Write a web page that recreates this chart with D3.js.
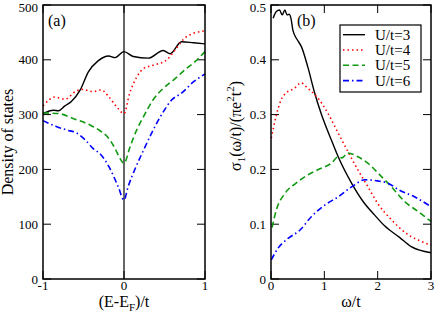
<!DOCTYPE html>
<html><head><meta charset="utf-8">
<script src="https://cdn.jsdelivr.net/npm/d3@7"></script>
<style>
body{margin:0;background:#fff;}
svg{display:block;}
text{font-family:"Liberation Serif","DejaVu Serif",serif;}
</style></head><body>
<svg id="c" width="436" height="315"></svg>
<script>
// ---------- Panel (a) data: Density of states vs (E-E_F)/t ----------
const aE3 = [-1,-0.87,-0.81,-0.73,-0.65,-0.54,-0.44,-0.32,-0.19,-0.11,0,0.115,0.30,0.485,0.57,0.71,0.86,1];
const aD3 = [302,308,307,316,324,345,378,398,407,404,415,406,403,417,411,433,431,429];
const aE4 = [-1,-0.85,-0.73,-0.60,-0.52,-0.38,-0.28,-0.19,-0.09,0,0.07,0.16,0.24,0.36,0.53,0.63,0.77,1];
const aD4 = [316,332,328,342,346,342,345,333,314,302,339,369,384,390,400,418,442,453];
const aE5 = [-1,-0.81,-0.63,-0.42,-0.30,-0.19,-0.11,-0.05,0,0.074,0.157,0.24,0.36,0.485,0.61,0.77,0.88,1];
const aD5 = [303,302,293,281,271,257,238,220,211,241,272,296,327,348,363,384,397,415];
const aE6 = [-1,-0.83,-0.71,-0.58,-0.48,-0.38,-0.28,-0.19,-0.07,0,0.05,0.14,0.26,0.36,0.485,0.59,0.71,0.86,1];
const aD6 = [289,278,272,266,254,238,226,206,168,144,168,202,241,272,305,327,339,360,374];

// ---------- Panel (b) data: sigma_1 vs omega/t ----------
const bW3 = [0.04,0.1,0.16,0.21,0.26,0.3,0.34,0.38,0.41,0.49,0.57,0.69,0.82,0.94,1.13,1.26,1.51,1.73,1.94,2.13,2.41,2.63,3];
const bS3 = [0.476,0.488,0.491,0.482,0.491,0.482,0.483,0.473,0.454,0.437,0.424,0.387,0.339,0.302,0.254,0.223,0.175,0.141,0.117,0.097,0.076,0.059,0.048];
const bW4 = [0.006,0.1,0.19,0.29,0.44,0.56,0.69,0.88,1.07,1.26,1.44,1.63,1.82,2.0,2.26,2.54,2.76,3];
const bS4 = [0.257,0.299,0.327,0.340,0.348,0.358,0.348,0.330,0.302,0.266,0.233,0.199,0.168,0.138,0.108,0.083,0.071,0.062];
const bW5 = [0.02,0.1,0.26,0.47,0.69,0.94,1.13,1.26,1.33,1.44,1.63,1.82,2.07,2.26,2.51,2.76,3];
const bS5 = [0.094,0.126,0.156,0.175,0.190,0.202,0.211,0.223,0.221,0.230,0.223,0.211,0.187,0.168,0.141,0.123,0.105];
const bW6 = [0.006,0.13,0.32,0.54,0.76,1.01,1.26,1.51,1.76,2.0,2.19,2.41,2.69,3];
const bS6 = [0.035,0.056,0.074,0.089,0.114,0.135,0.150,0.168,0.181,0.179,0.175,0.162,0.150,0.132];

const seriesNames = ["U/t=3","U/t=4","U/t=5","U/t=6"];
const colors = ["#000000","#ff0000","#119911","#0000ff"];
const dashes = [null,"1.5,3","6,3.5","6,3,1.5,3"];

const aXTicks = [-1,0,1];
const aYTicks = [0,100,200,300,400,500];
const bXTicks = [0,1,2,3];
const bYTicks = [0,0.1,0.2,0.3,0.4,0.5];
const bYLabels = ["0","0.1","0.2","0.3","0.4","0.5"];

const FONT = "'Liberation Serif','DejaVu Serif',serif";
const svg = d3.select("#c");
const TICK = 8;

function panel(cfg){
  const g = svg.append("g");
  const x = d3.scaleLinear().domain(cfg.xd).range([cfg.x0,cfg.x1]);
  const y = d3.scaleLinear().domain(cfg.yd).range([cfg.y1,cfg.y0]);
  const tk = g.append("g").attr("stroke","#000").attr("stroke-width",1);
  cfg.xt.forEach(v=>{
    tk.append("line").attr("x1",x(v)).attr("x2",x(v)).attr("y1",cfg.y1).attr("y2",cfg.y1-TICK);
    tk.append("line").attr("x1",x(v)).attr("x2",x(v)).attr("y1",cfg.y0).attr("y2",cfg.y0+TICK);
  });
  cfg.yt.forEach(v=>{
    tk.append("line").attr("x1",cfg.x0).attr("x2",cfg.x0+TICK).attr("y1",y(v)).attr("y2",y(v));
    tk.append("line").attr("x1",cfg.x1).attr("x2",cfg.x1-TICK).attr("y1",y(v)).attr("y2",y(v));
  });
  cfg.xt.forEach((v,i)=>{
    g.append("text").attr("x",x(v)).attr("y",cfg.y1+11).attr("text-anchor","middle")
      .attr("font-family",FONT).attr("font-size",13).text(cfg.xl[i]);
  });
  cfg.yt.forEach((v,i)=>{
    g.append("text").attr("x",cfg.x0-5).attr("y",Math.max(y(v)+4.5,12)).attr("text-anchor","end")
      .attr("font-family",FONT).attr("font-size",13).text(cfg.yl[i]);
  });
  if(cfg.zeroLine){
    g.append("line").attr("x1",x(0)).attr("x2",x(0)).attr("y1",cfg.y0).attr("y2",cfg.y1)
      .attr("stroke","#000").attr("stroke-width",1.2);
  }
  const line = d3.line().x(d=>x(d[0])).y(d=>y(d[1])).curve(d3.curveMonotoneX);
  cfg.series.forEach((s,i)=>{
    const data = s[0].map((v,j)=>[v,s[1][j]]);
    g.append("path").attr("d",line(data)).attr("fill","none")
      .attr("stroke",colors[i]).attr("stroke-width",i==0?1.4:1.6)
      .attr("stroke-dasharray",dashes[i]);
  });
  g.append("rect").attr("x",cfg.x0).attr("y",cfg.y0).attr("width",cfg.x1-cfg.x0).attr("height",cfg.y1-cfg.y0)
    .attr("fill","none").attr("stroke","#000").attr("stroke-width",1.5);
  return {g,x,y};
}

panel({x0:43,x1:205,y0:5,y1:279,xd:[-1,1],yd:[0,500],xt:aXTicks,yt:aYTicks,
  xl:aXTicks.map(String),yl:aYTicks.map(String),zeroLine:true,
  series:[[aE3,aD3],[aE4,aD4],[aE5,aD5],[aE6,aD6]]});
panel({x0:271,x1:431,y0:5,y1:279,xd:[0,3],yd:[0,0.5],xt:bXTicks,yt:bYTicks,
  xl:bXTicks.map(String),yl:bYLabels,zeroLine:false,
  series:[[bW3,bS3],[bW4,bS4],[bW5,bS5],[bW6,bS6]]});

svg.append("text").attr("x",48).attr("y",26).attr("font-family",FONT).attr("font-size",16).text("(a)");
svg.append("text").attr("x",297).attr("y",26).attr("font-family",FONT).attr("font-size",16).text("(b)");

const xa = svg.append("text").attr("x",124).attr("y",307).attr("text-anchor","middle")
  .attr("font-family",FONT).attr("font-size",16);
xa.append("tspan").text("(E-E");
xa.append("tspan").attr("font-size",11).attr("dy",4).text("F");
xa.append("tspan").attr("dy",-4).text(")/t");

svg.append("text").attr("transform","translate(13,142) rotate(-90)").attr("text-anchor","middle")
  .attr("font-family",FONT).attr("font-size",16).text("Density of states");

svg.append("text").attr("x",351).attr("y",307).attr("text-anchor","middle")
  .attr("font-family",FONT).attr("font-size",16).text("ω/t");

const yb = svg.append("text").attr("transform","translate(241,126) rotate(-90)").attr("text-anchor","middle")
  .attr("font-family",FONT).attr("font-size",16);
yb.append("tspan").text("σ");
yb.append("tspan").attr("font-size",11).attr("dy",4).text("1");
yb.append("tspan").attr("dy",-4).text("(ω/t)/(πe");
yb.append("tspan").attr("font-size",11).attr("dy",-7).text("2");
yb.append("tspan").attr("dy",7).text("t");
yb.append("tspan").attr("font-size",11).attr("dy",-7).text("2");
yb.append("tspan").attr("dy",7).text(")");

const lg = svg.append("g");
lg.append("rect").attr("x",340).attr("y",25).attr("width",81).attr("height",67)
  .attr("fill","#fff").attr("stroke","#000").attr("stroke-width",1.2);
seriesNames.forEach((n,i)=>{
  const yy = 34.7 + i*15.3;
  lg.append("line").attr("x1",343).attr("x2",365).attr("y1",yy).attr("y2",yy)
    .attr("stroke",colors[i]).attr("stroke-width",i==0?1.4:1.6).attr("stroke-dasharray",dashes[i]);
  lg.append("text").attr("x",375).attr("y",yy+5).attr("font-family",FONT).attr("font-size",15).text(n);
});
</script>
</body></html>
